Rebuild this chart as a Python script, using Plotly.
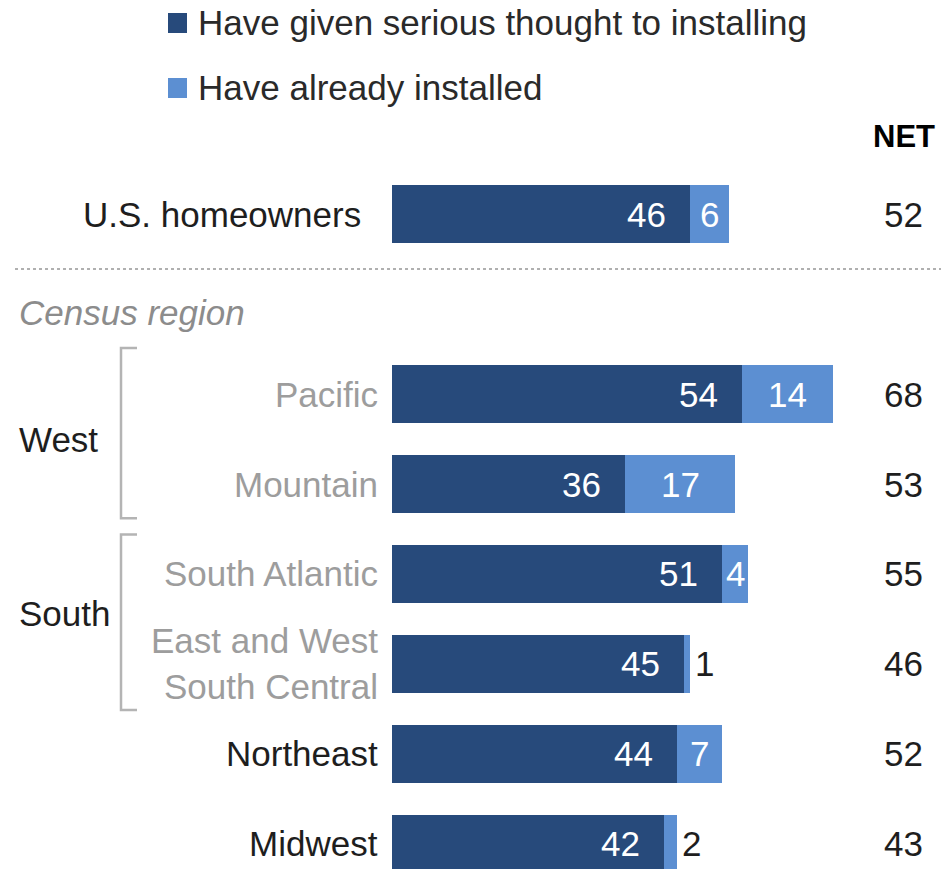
import plotly.graph_objects as go

# Survey data: share of homeowners considering / having installed solar panels
rows = ["U.S. homeowners", "Pacific", "Mountain", "South Atlantic",
        "East and West<br>South Central", "Northeast", "Midwest"]
row_pos = [0, 2, 3, 4, 5, 6, 7]
thought = [46, 54, 36, 51, 45, 44, 42]
installed = [6, 14, 17, 4, 1, 7, 2]
net = [52, 68, 53, 55, 46, 52, 43]
sub_rows = {"Pacific", "Mountain", "South Atlantic", "East and West<br>South Central"}

DARK = "#274a7b"
LIGHT = "#5c8fd2"
TXT = "#1e1e1e"
GREY = "#9d9d9d"
FONT = "Liberation Sans, Arial, sans-serif"
FS = 35

fig = go.Figure()
fig.add_trace(go.Bar(y=row_pos, x=thought, orientation="h", width=0.64,
                     marker=dict(color=DARK, line=dict(width=0)),
                     name="Have given serious thought to installing",
                     hoverinfo="skip", showlegend=False))
fig.add_trace(go.Bar(y=row_pos, x=installed, orientation="h", width=0.64,
                     marker=dict(color=LIGHT, line=dict(width=0)),
                     name="Have already installed",
                     hoverinfo="skip", showlegend=False))

ann = []
shapes = []

for lab, p, a, b, n in zip(rows, row_pos, thought, installed, net):
    # category label
    ann.append(dict(x=0, y=p, xref="x", yref="y", text=lab, showarrow=False,
                    xanchor="right", align="right",
                    xshift=-29 if p == 0 else -12,
                    font=dict(family=FONT, size=FS,
                              color=GREY if lab in sub_rows else TXT)))
    # value inside dark segment
    ann.append(dict(x=a, y=p, xref="x", yref="y", text=str(a), showarrow=False,
                    xanchor="right", xshift=-22,
                    font=dict(family=FONT, size=FS, color="white")))
    # value for light segment
    if b >= 4:
        ann.append(dict(x=a + b / 2, y=p, xref="x", yref="y", text=str(b),
                        showarrow=False, xanchor="center",
                        font=dict(family=FONT, size=FS, color="white")))
    else:
        ann.append(dict(x=a + b, y=p, xref="x", yref="y", text=str(b),
                        showarrow=False, xanchor="left", xshift=3,
                        font=dict(family=FONT, size=FS, color=TXT)))
    # NET column
    ann.append(dict(x=0.983, y=p, xref="paper", yref="y", text=str(n),
                    showarrow=False, xanchor="right",
                    font=dict(family=FONT, size=FS, color=TXT)))

# NET header
ann.append(dict(x=0.996, y=-0.86, xref="paper", yref="y", text="<b>NET</b>",
                showarrow=False, xanchor="right",
                font=dict(family=FONT, size=31, color="#000000")))

# Section heading
ann.append(dict(x=0.018, y=1.09, xref="paper", yref="y", text="<i>Census region</i>",
                showarrow=False, xanchor="left",
                font=dict(family=FONT, size=FS, color="#8c8c8c")))

# Group labels and brackets
ann.append(dict(x=0.018, y=2.5, xref="paper", yref="y", text="West",
                showarrow=False, xanchor="left",
                font=dict(family=FONT, size=FS, color=TXT)))
ann.append(dict(x=0.018, y=4.44, xref="paper", yref="y", text="South",
                showarrow=False, xanchor="left",
                font=dict(family=FONT, size=FS, color=TXT)))

bx0, bx1 = 121 / 941, 137 / 941
for top, bot in [(1.49, 3.38), (3.56, 5.51)]:
    shapes.append(dict(type="path", xref="paper", yref="y",
                       path=f"M {bx1} {top} L {bx0} {top} L {bx0} {bot} L {bx1} {bot}",
                       line=dict(color="#b4b4b4", width=2.5)))

# Dotted separator below the total row
shapes.append(dict(type="line", xref="paper", yref="y", x0=15 / 941, x1=1.0,
                   y0=0.61, y1=0.61, line=dict(color="#b0b0b0", width=2, dash="dot")))

# Legend built from swatches and text
legend_items = [("Have given serious thought to installing", DARK, 23),
                ("Have already installed", LIGHT, 88)]
for txt, col, yc in legend_items:
    shapes.append(dict(type="rect", xref="paper", yref="paper",
                       x0=168 / 941, x1=187 / 941,
                       y0=1 - (yc - 10) / 869, y1=1 - (yc + 10) / 869,
                       fillcolor=col, line=dict(width=0)))
    ann.append(dict(x=196 / 941, y=1 - yc / 869, xref="paper", yref="paper",
                    text=txt, showarrow=False, xanchor="left", yanchor="middle",
                    font=dict(family=FONT, size=FS, color="#2a2a2a")))

fig.update_layout(
    width=941, height=869,
    margin=dict(l=0, r=0, t=0, b=0),
    paper_bgcolor="white", plot_bgcolor="white",
    barmode="stack", bargap=0,
    xaxis=dict(range=[-60.49, 84.72], visible=False, fixedrange=True),
    yaxis=dict(range=[7.278, -2.378], visible=False, fixedrange=True),
    annotations=ann, shapes=shapes,
    showlegend=False,
)

fig.write_html("out.html")
